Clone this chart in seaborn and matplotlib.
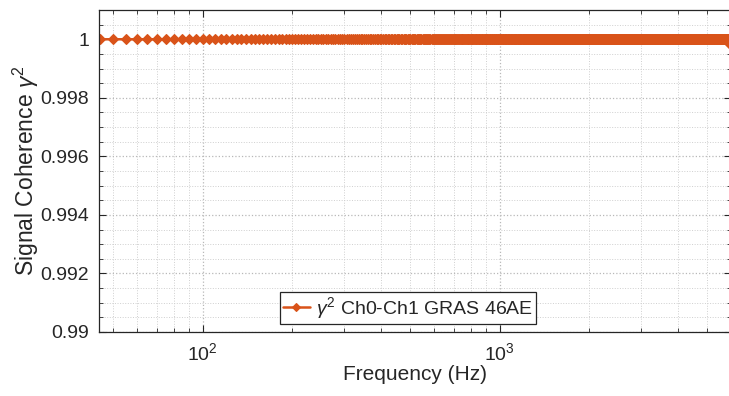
import numpy as np
import pandas as pd
import matplotlib
matplotlib.use("Agg")
import matplotlib.pyplot as plt
import matplotlib.ticker as mticker
import seaborn as sns

# ---- data ----
freq_start = 45      # Hz, first analysed bin
freq_stop = 6000     # Hz, last analysed bin
freq_step = 5        # Hz, bin spacing (markers linearly spaced)
coherence_flat = 1.0  # coherence over most of the band
# last bins near the upper band edge, where coherence rolls off slightly
coherence_tail = [0.99999, 0.99999, 0.99998, 0.99998, 0.99997, 0.99997, 0.99996,
                  0.99995, 0.99995, 0.99994, 0.99993, 0.99992, 0.99991, 0.99990,
                  0.99989, 0.99988, 0.99987, 0.99986, 0.99985, 0.99984]
series_label = r"$\gamma^2$ Ch0-Ch1 GRAS 46AE"
x_label = "Frequency (Hz)"
y_label = r"Signal Coherence $\gamma^2$"
y_ticks = [0.99, 0.992, 0.994, 0.996, 0.998, 1.0]
y_tick_labels = ["0.99", "0.992", "0.994", "0.996", "0.998", "1"]

freq = np.arange(freq_start, freq_stop + freq_step, freq_step)
coh = np.full(freq.shape, coherence_flat)
coh[-len(coherence_tail):] = coherence_tail
df = pd.DataFrame({"Frequency": freq, "Coherence": coh, "series": series_label})

sns.set_theme(style="white")
plt.rcParams["font.family"] = ["Liberation Sans", "DejaVu Sans"]
plt.rcParams["mathtext.fontset"] = "custom"
plt.rcParams["mathtext.it"] = "Liberation Sans:italic"
plt.rcParams["mathtext.rm"] = "Liberation Sans"

color = "#D95319"
fig = plt.figure(figsize=(7.29, 3.96), dpi=100)
ax = fig.add_axes([99 / 729, (396 - 332) / 396, (730.5 - 99) / 729, (332 - 10) / 396])

sns.lineplot(data=df, x="Frequency", y="Coherence", hue="series", palette=[color],
             estimator=None, marker="D", markersize=4.8, markeredgewidth=0.8,
             markeredgecolor=color, linewidth=1.8, ax=ax)

ax.set_xscale("log")
ax.set_xlim(freq_start - 0.3, freq_stop)
ax.set_ylim(0.99, 1.001)
ax.set_yticks(y_ticks)
ax.set_yticklabels(y_tick_labels)
ax.yaxis.set_minor_locator(mticker.MultipleLocator(0.0005))
ax.xaxis.set_major_locator(mticker.LogLocator(base=10))
ax.xaxis.set_minor_locator(mticker.LogLocator(base=10, subs=np.arange(2, 10)))
ax.xaxis.set_minor_formatter(mticker.NullFormatter())

ax.grid(True, which="major", color="#b8b8b8", linestyle=":", linewidth=0.9)
ax.grid(True, which="minor", color="#cfcfcf", linestyle=":", linewidth=0.7)
ax.set_axisbelow(True)

for s in ax.spines.values():
    s.set_visible(True)
    s.set_color("#262626")
    s.set_linewidth(0.9)

ax.tick_params(axis="both", which="both", direction="in", top=True, right=True,
               bottom=True, left=True, colors="#262626")
ax.tick_params(axis="both", which="major", length=5, width=0.8, labelsize=14)
ax.tick_params(axis="y", which="major", pad=7)
ax.tick_params(axis="x", which="major", pad=7)
ax.tick_params(axis="both", which="minor", length=3, width=0.6)
for lbl in ax.get_xticklabels() + ax.get_yticklabels():
    lbl.set_color("#262626")

ax.set_xlabel(x_label, fontsize=15, color="#262626", labelpad=1)
ax.set_ylabel(y_label, fontsize=16.5, color="#262626", labelpad=0)

leg = ax.legend(loc="lower center", bbox_to_anchor=(0.489, 0.008), fontsize=14,
                frameon=True, fancybox=False, handlelength=1.4, handletextpad=0.3,
                borderpad=0.15, borderaxespad=0.3)
leg.get_frame().set_edgecolor("#262626")
leg.get_frame().set_linewidth(0.9)
leg.get_frame().set_alpha(1.0)
for h in leg.legend_handles:
    h.set_markersize(4.5)

fig.savefig("out.png", dpi=100)
